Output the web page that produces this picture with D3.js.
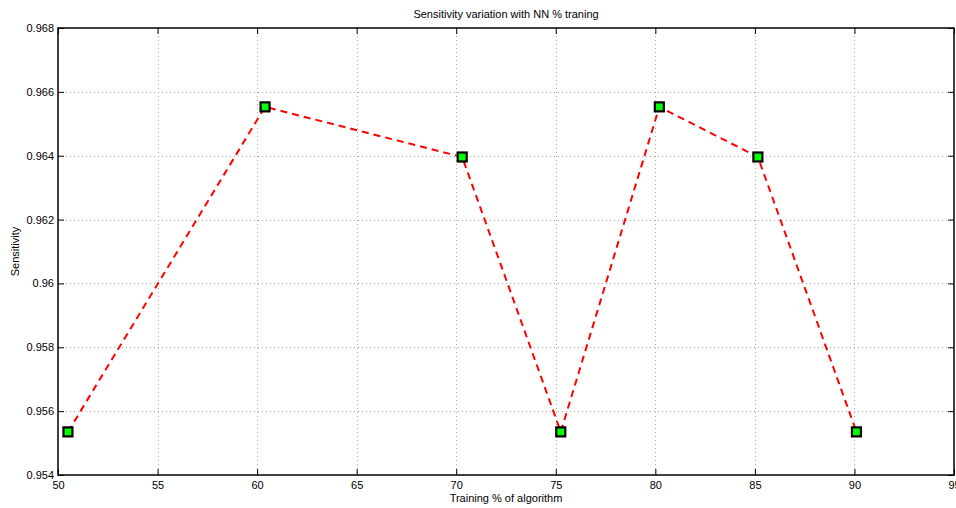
<!DOCTYPE html>
<html>
<head>
<meta charset="utf-8">
<script src="https://cdn.jsdelivr.net/npm/d3@7"></script>
<style>
  html, body { margin: 0; padding: 0; background: #fff; }
  svg { display: block; font-family: "Liberation Sans", Arial, Helvetica, sans-serif; }
</style>
</head>
<body>
<svg id="chart" width="956" height="508"></svg>
<script>
// Training percentage of the network and the resulting sensitivity
const trainingPct = [50.5, 60.4, 70.3, 75.25, 80.2, 85.15, 90.1];
const sensitivity = [0.95535, 0.96553, 0.96396, 0.95535, 0.96553, 0.96396, 0.95535];
const xTicks = [50, 55, 60, 65, 70, 75, 80, 85, 90, 95];
const yTicks = [0.954, 0.956, 0.958, 0.96, 0.962, 0.964, 0.966, 0.968];

const svg = d3.select("#chart");
const m = { left: 58, right: 2, top: 28, bottom: 33 };
const W = 956, H = 508;
const x = d3.scaleLinear().domain([50, 95]).range([m.left, W - m.right]);
const y = d3.scaleLinear().domain([0.954, 0.968]).range([H - m.bottom, m.top]);

const x0 = x.range()[0], x1 = x.range()[1];
const y0 = y.range()[0], y1 = y.range()[1];

// dotted grid
const grid = svg.append("g").attr("stroke", "#aaa").attr("stroke-width", 1)
  .attr("stroke-dasharray", "1,3");
grid.selectAll(".gx").data(xTicks.slice(1, -1)).join("line")
  .attr("x1", d => Math.round(x(d)) + 0.5).attr("x2", d => Math.round(x(d)) + 0.5)
  .attr("y1", y1).attr("y2", y0);
grid.selectAll(".gy").data(yTicks.slice(1, -1)).join("line")
  .attr("y1", d => Math.round(y(d)) + 0.5).attr("y2", d => Math.round(y(d)) + 0.5)
  .attr("x1", x0).attr("x2", x1);

// axes with inward ticks
const fmtY = d => String(+d.toFixed(3));
const xAxisB = d3.axisBottom(x).tickValues(xTicks).tickSize(-6).tickPadding(6).tickFormat(d3.format("d"));
const xAxisT = d3.axisTop(x).tickValues(xTicks).tickSize(-6).tickFormat("");
const yAxisL = d3.axisLeft(y).tickValues(yTicks).tickSize(-6).tickPadding(4).tickFormat(fmtY);
const yAxisR = d3.axisRight(y).tickValues(yTicks).tickSize(-6).tickFormat("");

function style(g) {
  g.select(".domain").remove();
  g.selectAll(".tick line").attr("stroke", "#000").attr("stroke-width", 1);
  g.selectAll(".tick text").attr("fill", "#000").attr("font-size", 11)
    .attr("font-family", "Liberation Sans, Arial, sans-serif");
}
svg.append("g").attr("transform", `translate(0,${y0})`).call(xAxisB).call(style);
svg.append("g").attr("transform", `translate(0,${y1})`).call(xAxisT).call(style);
svg.append("g").attr("transform", `translate(${x0},0)`).call(yAxisL).call(style);
svg.append("g").attr("transform", `translate(${x1},0)`).call(yAxisR).call(style);

// box
svg.append("rect").attr("x", x0).attr("y", y1).attr("width", x1 - x0).attr("height", y0 - y1)
  .attr("fill", "none").attr("stroke", "#000").attr("stroke-width", 1.5);

// data line
const pts = trainingPct.map((t, i) => [t, sensitivity[i]]);
svg.append("path").datum(pts)
  .attr("d", d3.line().x(d => x(d[0])).y(d => y(d[1])))
  .attr("fill", "none").attr("stroke", "#ff0000").attr("stroke-width", 2)
  .attr("stroke-dasharray", "7,5");

// square markers
const s = 9;
svg.selectAll(".mk").data(pts).join("rect")
  .attr("x", d => x(d[0]) - s / 2).attr("y", d => y(d[1]) - s / 2)
  .attr("width", s).attr("height", s)
  .attr("fill", "#00ff00").attr("stroke", "#000").attr("stroke-width", 2.2);

// titles
svg.append("text").attr("x", (x0 + x1) / 2).attr("y", 18).attr("text-anchor", "middle")
  .attr("font-size", 11).text("Sensitivity variation with NN % traning");
svg.append("text").attr("x", (x0 + x1) / 2).attr("y", 502).attr("text-anchor", "middle")
  .attr("font-size", 11).text("Training % of algorithm");
svg.append("text").attr("transform", `translate(19,${(y0 + y1) / 2}) rotate(-90)`)
  .attr("text-anchor", "middle").attr("font-size", 11).text("Sensitivity");
</script>
</body>
</html>
